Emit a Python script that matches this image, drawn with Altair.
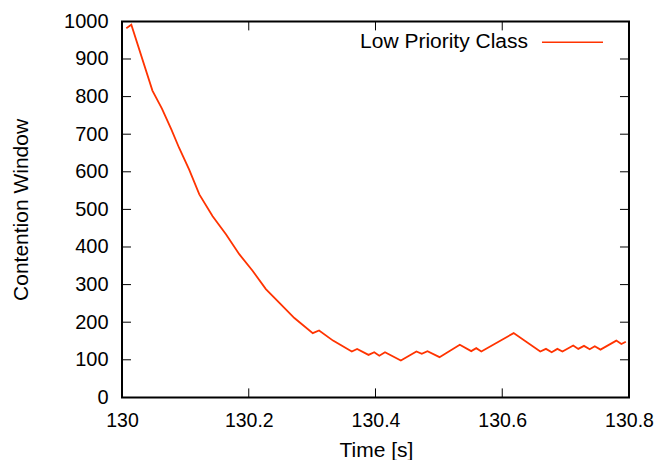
import altair as alt
import pandas as pd

# Data
times = [130.0068, 130.0147, 130.048, 130.063, 130.078, 130.090, 130.106, 130.122,
         130.143, 130.164, 130.185, 130.206, 130.227, 130.248, 130.272, 130.301,
         130.311, 130.333, 130.3626, 130.371, 130.389, 130.398, 130.406, 130.415,
         130.440, 130.4646, 130.473, 130.482, 130.501, 130.533, 130.551, 130.559,
         130.567, 130.618, 130.660, 130.669, 130.678, 130.687, 130.695, 130.712,
         130.720, 130.729, 130.738, 130.746, 130.755, 130.780, 130.788, 130.795]
cw = [982, 991, 816, 768, 712, 664, 606, 540,
      482, 434, 381, 337, 288, 252, 211, 171,
      178, 151, 122, 129, 113, 120, 111, 120,
      98, 122, 116, 123, 107, 140, 123, 131,
      122, 171, 122, 129, 120, 129, 122, 138,
      129, 137, 128, 136, 127, 151, 142, 148]

x_ticks = [130, 130.2, 130.4, 130.6, 130.8]
x_inner_ticks = [130.2, 130.4, 130.6]
y_ticks = [0, 100, 200, 300, 400, 500, 600, 700, 800, 900, 1000]
y_inner_ticks = [100, 200, 300, 400, 500, 600, 700, 800, 900]
series_name = ["Low Priority Class"]

W, H = 507, 376
FONT = "Liberation Sans"
FS = 21
RED = "#ff3300"
TICK = 9

df = pd.DataFrame({"t": times, "cw": cw})
xs = alt.Scale(domain=[130, 130.8], nice=False, zero=False)
ys = alt.Scale(domain=[0, 1000], nice=False, zero=False)

xaxis = alt.Axis(values=x_ticks, format="~g", title="Time [s]",
                 domain=False, ticks=False, tickSize=0, grid=False,
                 labelPadding=14, labelFont=FONT, labelFontSize=19.5,
                 labelColor="black", titleFont=FONT, titleFontSize=FS,
                 titleFontWeight="normal", titleColor="black",
                 titleX=254, titleY=59, titleBaseline="alphabetic",
                 labelFlush=False, labelOverlap=False)
yaxis = alt.Axis(values=y_ticks, format="d", title="Contention Window",
                 domain=False, ticks=False, tickSize=0, grid=False,
                 labelPadding=14, labelFont=FONT, labelFontSize=20,
                 labelColor="black", titleFont=FONT, titleFontSize=FS,
                 titleFontWeight="normal", titleColor="black",
                 titleX=-101, titleY=188, titleBaseline="middle",
                 labelFlush=False, labelOverlap=False)

line = alt.Chart(df).mark_line(color=RED, strokeWidth=1.8).encode(
    x=alt.X("t:Q", scale=xs, axis=xaxis),
    y=alt.Y("cw:Q", scale=ys, axis=yaxis),
)

ydf = pd.DataFrame({"v": y_inner_ticks})
xdf = pd.DataFrame({"v": x_inner_ticks})

left_ticks = alt.Chart(ydf).mark_rule(color="black", strokeWidth=1).encode(
    y=alt.Y("v:Q", scale=ys, axis=yaxis), x=alt.value(0), x2=alt.value(TICK))
right_ticks = alt.Chart(ydf).mark_rule(color="black", strokeWidth=1).encode(
    y=alt.Y("v:Q", scale=ys, axis=yaxis), x=alt.value(W - TICK), x2=alt.value(W))
bottom_ticks = alt.Chart(xdf).mark_rule(color="black", strokeWidth=1).encode(
    x=alt.X("v:Q", scale=xs, axis=xaxis), y=alt.value(H), y2=alt.value(H - TICK))
top_ticks = alt.Chart(xdf).mark_rule(color="black", strokeWidth=1).encode(
    x=alt.X("v:Q", scale=xs, axis=xaxis), y=alt.value(0), y2=alt.value(TICK))

ldf = pd.DataFrame({"name": series_name})
legend_text = alt.Chart(ldf).mark_text(
    font=FONT, fontSize=FS, align="right", baseline="alphabetic", color="black"
).encode(text="name:N", x=alt.value(406), y=alt.value(26.6))
legend_line = alt.Chart(ldf).mark_rule(color=RED, strokeWidth=1.5).encode(
    x=alt.value(420), x2=alt.value(481), y=alt.value(20.9), detail="name:N")

chart = alt.layer(line, left_ticks, right_ticks, bottom_ticks, top_ticks,
                  legend_text, legend_line).properties(
    width=W, height=H,
    autosize=alt.AutoSizeParams(type="none"),
    padding={"left": 114, "top": 13.4, "right": 25, "bottom": 63},
    background="white",
).configure_view(stroke="black", strokeWidth=2)

chart.save("out.html", embed_options={"renderer": "svg", "actions": False})
